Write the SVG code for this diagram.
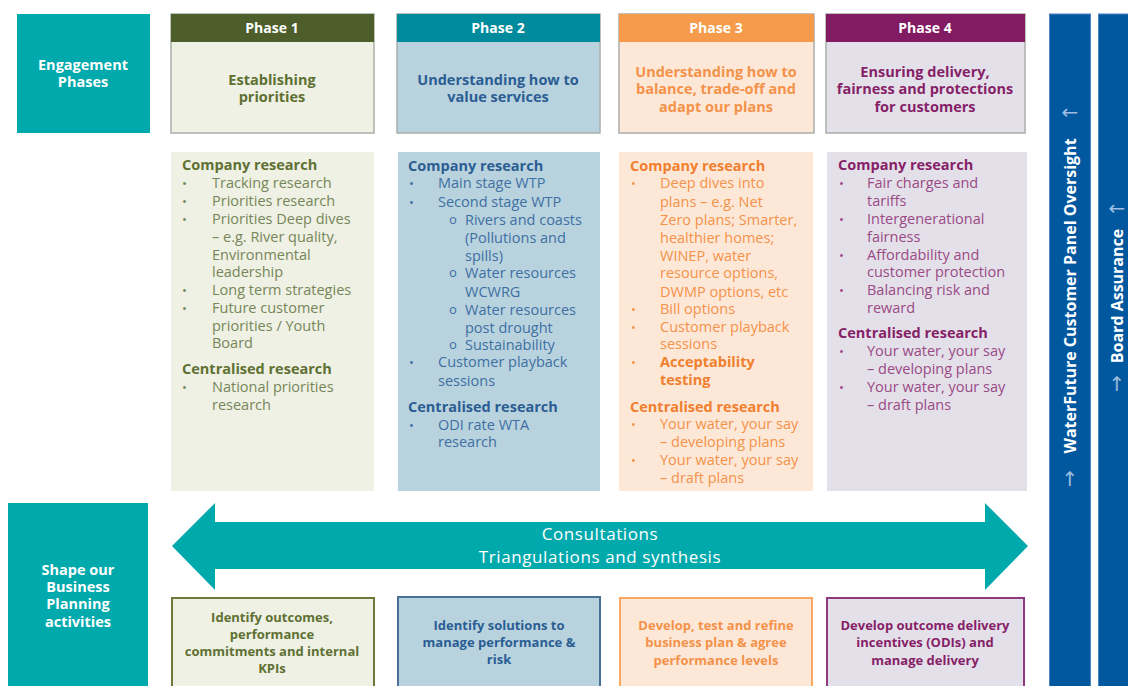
<svg xmlns="http://www.w3.org/2000/svg" width="1128" height="686" viewBox="0 0 1128 686">
  <style>
    text { font-family: "Open Sans", "Noto Sans", "Liberation Sans", sans-serif; }
    .hd { font-size: 14px; font-weight: 700; fill: #ffffff; text-anchor: middle; }
    .tt { font-size: 14.5px; font-weight: 700; text-anchor: middle; }
    .h { font-size: 14.5px; font-weight: 700; }
    .t { font-size: 14.5px; }
    .bul { font-size: 13px; }
    .act { font-size: 13px; font-weight: 700; text-anchor: middle; }
    .wh { fill: #ffffff; }
    .band { font-size: 17px; letter-spacing: 0.6px; fill: #ffffff; text-anchor: middle; }
    .frame { stroke: #a9aeaa; stroke-width: 1.5; }
    .c1 { fill: #5f7033; } .c1t { fill: #77865a; }
    .c2 { fill: #2b5d93; } .c2t { fill: #3f6fa3; }
    .c3 { fill: #f07f2e; } .c3t { fill: #f4924a; }
    .c4 { fill: #861f67; } .c4t { fill: #9a4a84; }
    .bar { fill: #02589f; stroke: #4a84c4; stroke-width: 1; }
    .bartxt { font-size: 16px; font-weight: 700; fill: #ffffff; text-anchor: middle; }
    .barar { font-family: "DejaVu Sans", sans-serif; font-size: 20px; fill: #9ebde0; text-anchor: middle; }
  </style>

  <rect width="1128" height="686" fill="#ffffff"/>

  <!-- Row labels -->
  <g id="engagement-phases">
    <rect x="17" y="14" width="133" height="119" fill="#00a9ac"/>
    <text class="tt wh" x="83" y="70">Engagement</text>
    <text class="tt wh" x="83" y="87">Phases</text>
  </g>

  <g id="shape-business-planning">
    <rect x="8" y="503" width="140" height="190" fill="#00a9ac"/>
    <text class="tt wh" x="78" y="575">Shape our</text>
    <text class="tt wh" x="78" y="592">Business</text>
    <text class="tt wh" x="78" y="609">Planning</text>
    <text class="tt wh" x="78" y="627">activities</text>
  </g>

  <!-- Phase headers -->
  <g id="phase-1">
    <rect class="frame" x="171" y="14" width="203" height="119" fill="#eef1e3"/>
    <rect x="171" y="14" width="203" height="28" fill="#4e5e2b"/>
    <text class="hd" x="272" y="33">Phase 1</text>
    <text class="tt c1" x="272" y="85">Establishing</text>
    <text class="tt c1" x="272" y="102">priorities</text>
  </g>

  <g id="phase-2">
    <rect class="frame" x="397" y="14" width="203" height="119" fill="#b8d3de"/>
    <rect x="397" y="14" width="203" height="28" fill="#008b9d"/>
    <text class="hd" x="498" y="33">Phase 2</text>
    <text class="tt c2" x="498" y="85">Understanding how to</text>
    <text class="tt c2" x="498" y="102">value services</text>
  </g>

  <g id="phase-3">
    <rect class="frame" x="619" y="14" width="195" height="119" fill="#fde8d8"/>
    <rect x="619" y="14" width="195" height="28" fill="#f59b4b"/>
    <text class="hd" x="716" y="33">Phase 3</text>
    <text class="tt c3t" x="716" y="77">Understanding how to</text>
    <text class="tt c3t" x="716" y="94">balance, trade-off and</text>
    <text class="tt c3t" x="716" y="112">adapt our plans</text>
  </g>

  <g id="phase-4">
    <rect class="frame" x="826" y="14" width="199" height="119" fill="#e4e0ea"/>
    <rect x="826" y="14" width="199" height="28" fill="#831b62"/>
    <text class="hd" x="925" y="33">Phase 4</text>
    <text class="tt c4" x="925" y="77">Ensuring delivery,</text>
    <text class="tt c4" x="925" y="94">fairness and protections</text>
    <text class="tt c4" x="925" y="112">for customers</text>
  </g>

  <!-- Research columns -->
  <g id="research-1">
    <rect x="171" y="152" width="203" height="339" fill="#eef1e3"/>
    <text class="h c1" x="182" y="170">Company research</text>
    <g class="c1t">
      <text class="bul" x="182" y="188">•</text>
      <text class="t" x="212" y="188">Tracking research</text>
      <text class="bul" x="182" y="206">•</text>
      <text class="t" x="212" y="206">Priorities research</text>
      <text class="bul" x="182" y="224">•</text>
      <text class="t" x="212" y="224">Priorities Deep dives</text>
      <text class="t" x="212" y="242">– e.g. River quality,</text>
      <text class="t" x="212" y="259.5">Environmental</text>
      <text class="t" x="212" y="277">leadership</text>
      <text class="bul" x="182" y="295">•</text>
      <text class="t" x="212" y="295">Long term strategies</text>
      <text class="bul" x="182" y="313">•</text>
      <text class="t" x="212" y="313">Future customer</text>
      <text class="t" x="212" y="331">priorities / Youth</text>
      <text class="t" x="212" y="348">Board</text>
    </g>
    <text class="h c1" x="182" y="374">Centralised research</text>
    <g class="c1t">
      <text class="bul" x="182" y="392">•</text>
      <text class="t" x="212" y="392">National priorities</text>
      <text class="t" x="212" y="410">research</text>
    </g>
  </g>

  <g id="research-2">
    <rect x="398" y="152" width="202" height="339" fill="#b8d3de"/>
    <text class="h c2" x="408" y="171">Company research</text>
    <g class="c2t">
      <text class="bul" x="409" y="188">•</text>
      <text class="t" x="438" y="188">Main stage WTP</text>
      <text class="bul" x="409" y="207">•</text>
      <text class="t" x="438" y="207">Second stage WTP</text>
      <text class="bul" x="449" y="224">o</text>
      <text class="t" x="465" y="225">Rivers and coasts</text>
      <text class="t" x="465" y="243">(Pollutions and</text>
      <text class="t" x="465" y="261">spills)</text>
      <text class="bul" x="449" y="277">o</text>
      <text class="t" x="465" y="278">Water resources</text>
      <text class="t" x="465" y="297">WCWRG</text>
      <text class="bul" x="449" y="314">o</text>
      <text class="t" x="465" y="315">Water resources</text>
      <text class="t" x="465" y="333">post drought</text>
      <text class="bul" x="449" y="349">o</text>
      <text class="t" x="465" y="350">Sustainability</text>
      <text class="bul" x="409" y="367">•</text>
      <text class="t" x="438" y="367">Customer playback</text>
      <text class="t" x="438" y="386">sessions</text>
    </g>
    <text class="h c2" x="408" y="412">Centralised research</text>
    <g class="c2t">
      <text class="bul" x="409" y="430">•</text>
      <text class="t" x="438" y="430">ODI rate WTA</text>
      <text class="t" x="438" y="447">research</text>
    </g>
  </g>

  <g id="research-3">
    <rect x="619" y="152" width="194" height="339" fill="#fde8d8"/>
    <text class="h c3" x="630" y="171">Company research</text>
    <g class="c3t">
      <text class="bul" x="631" y="188">•</text>
      <text class="t" x="660" y="188">Deep dives into</text>
      <text class="t" x="660" y="207">plans – e.g. Net</text>
      <text class="t" x="660" y="225">Zero plans; Smarter,</text>
      <text class="t" x="660" y="243">healthier homes;</text>
      <text class="t" x="660" y="261">WINEP, water</text>
      <text class="t" x="660" y="278">resource options,</text>
      <text class="t" x="660" y="297">DWMP options, etc</text>
      <text class="bul" x="631" y="314">•</text>
      <text class="t" x="660" y="314">Bill options</text>
      <text class="bul" x="631" y="332">•</text>
      <text class="t" x="660" y="332">Customer playback</text>
      <text class="t" x="660" y="349">sessions</text>
      <text class="bul" x="631" y="367">•</text>
    </g>
    <text class="h c3" x="660" y="367">Acceptability</text>
    <text class="h c3" x="660" y="385">testing</text>
    <text class="h c3" x="630" y="412">Centralised research</text>
    <g class="c3t">
      <text class="bul" x="631" y="429">•</text>
      <text class="t" x="660" y="429">Your water, your say</text>
      <text class="t" x="660" y="447">– developing plans</text>
      <text class="bul" x="631" y="465">•</text>
      <text class="t" x="660" y="465">Your water, your say</text>
      <text class="t" x="660" y="483">– draft plans</text>
    </g>
  </g>

  <g id="research-4">
    <rect x="827" y="152" width="200" height="339" fill="#e4e0ea"/>
    <text class="h c4" x="838" y="170">Company research</text>
    <g class="c4t">
      <text class="bul" x="839" y="188">•</text>
      <text class="t" x="867" y="188">Fair charges and</text>
      <text class="t" x="867" y="206">tariffs</text>
      <text class="bul" x="839" y="224">•</text>
      <text class="t" x="867" y="224">Intergenerational</text>
      <text class="t" x="867" y="242">fairness</text>
      <text class="bul" x="839" y="259.5">•</text>
      <text class="t" x="867" y="259.5">Affordability and</text>
      <text class="t" x="867" y="277">customer protection</text>
      <text class="bul" x="839" y="295">•</text>
      <text class="t" x="867" y="295">Balancing risk and</text>
      <text class="t" x="867" y="313">reward</text>
    </g>
    <text class="h c4" x="838" y="338">Centralised research</text>
    <g class="c4t">
      <text class="bul" x="839" y="356">•</text>
      <text class="t" x="867" y="356">Your water, your say</text>
      <text class="t" x="867" y="374">– developing plans</text>
      <text class="bul" x="839" y="392">•</text>
      <text class="t" x="867" y="392">Your water, your say</text>
      <text class="t" x="867" y="410">– draft plans</text>
    </g>
  </g>

  <!-- Double-headed band across the planning row -->
  <g id="connectors">
    <polygon points="172,546 215,503 215,522 985,522 985,503 1028,546 985,590 985,569 215,569 215,590" fill="#00a9ac"/>
    <text class="band" x="600" y="540">Consultations</text>
    <text class="band" x="600" y="563">Triangulations and synthesis</text>
  </g>

  <!-- Business planning activities -->
  <g id="activity-1">
    <rect x="172" y="598" width="202" height="95" fill="#eef1e3" stroke="#6a7a3c" stroke-width="2"/>
    <text class="act c1" x="272" y="622">Identify outcomes,</text>
    <text class="act c1" x="272" y="639">performance</text>
    <text class="act c1" x="272" y="656">commitments and internal</text>
    <text class="act c1" x="272" y="673">KPIs</text>
  </g>

  <g id="activity-2">
    <rect x="398" y="597" width="202" height="96" fill="#b8d3de" stroke="#4a6f97" stroke-width="2"/>
    <text class="act c2" x="499" y="630">Identify solutions to</text>
    <text class="act c2" x="499" y="647">manage performance &amp;</text>
    <text class="act c2" x="499" y="664">risk</text>
  </g>

  <g id="activity-3">
    <rect x="620" y="598" width="192" height="95" fill="#fde8d8" stroke="#f7a862" stroke-width="2"/>
    <text class="act c3t" x="716" y="630">Develop, test and refine</text>
    <text class="act c3t" x="716" y="647">business plan &amp; agree</text>
    <text class="act c3t" x="716" y="665">performance levels</text>
  </g>

  <g id="activity-4">
    <rect x="827" y="598" width="197" height="95" fill="#e4e0ea" stroke="#8e3a7e" stroke-width="2"/>
    <text class="act c4" x="925" y="630">Develop outcome delivery</text>
    <text class="act c4" x="925" y="647">incentives (ODIs) and</text>
    <text class="act c4" x="925" y="665">manage delivery</text>
  </g>

  <!-- Oversight bars -->
  <g id="customer-panel-oversight">
    <rect class="bar" x="1049.5" y="14" width="41" height="680"/>
    <text class="bartxt" transform="translate(1070,296) rotate(-90)" dy="0.35em">WaterFuture Customer Panel Oversight</text>
    <text class="barar" x="1070" y="119">←</text>
    <text class="barar" x="1070" y="486">↑</text>
  </g>

  <g id="board-assurance">
    <rect class="bar" x="1098.5" y="14" width="35" height="680"/>
    <text class="bartxt" transform="translate(1117,296) rotate(-90)" dy="0.35em">Board Assurance</text>
    <text class="barar" x="1117" y="215">←</text>
    <text class="barar" x="1117" y="391">↑</text>
  </g>
</svg>
